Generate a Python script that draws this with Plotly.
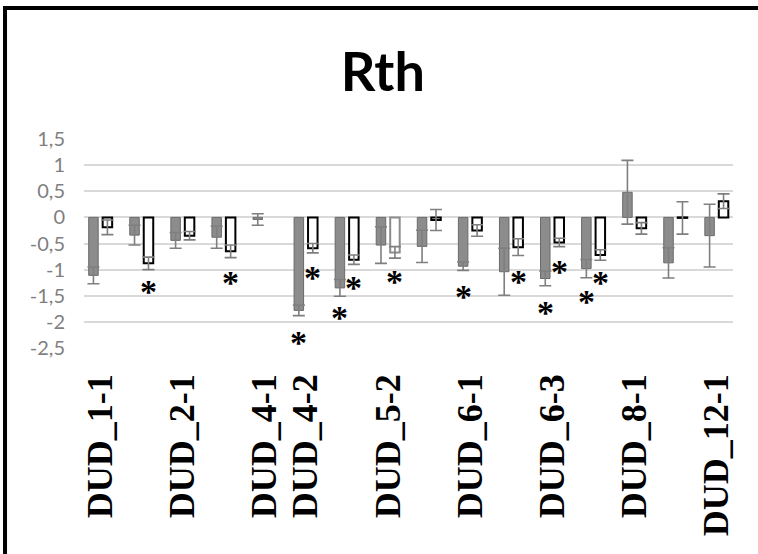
import plotly.graph_objects as go

categories = ["DUD_1-1", "DUD_1-2", "DUD_2-1", "DUD_2-2", "DUD_4-1", "DUD_4-2",
              "DUD_5-1", "DUD_5-2", "DUD_5-3", "DUD_6-1", "DUD_6-2", "DUD_6-3",
              "DUD_7-1", "DUD_8-1", "DUD_9-1", "DUD_12-1"]
shown_labels = ["DUD_1-1", "DUD_2-1", "DUD_4-1", "DUD_4-2", "DUD_5-2",
                "DUD_6-1", "DUD_6-3", "DUD_8-1", "DUD_12-1"]

gray_vals = [-1.11, -0.34, -0.44, -0.38, -0.04, -1.78, -1.35, -0.53,
             -0.555, -0.935, -1.04, -1.17, -0.98, 0.48, -0.87, -0.35]
gray_err = [0.16, 0.19, 0.15, 0.21, 0.11, 0.10, 0.16, 0.35,
            0.31, 0.08, 0.45, 0.14, 0.175, 0.61, 0.29, 0.60]
white_vals = [-0.19, -0.88, -0.35, -0.65, None, -0.59, -0.81, -0.67,
              -0.05, -0.25, -0.57, -0.48, -0.72, -0.21, -0.01, 0.31]
white_err = [0.14, 0.12, 0.08, 0.12, None, 0.09, 0.09, 0.11,
             0.20, 0.11, 0.16, 0.08, 0.10, 0.11, 0.31, 0.14]
white_outline = ["black"] * 7 + ["#8c8c8c"] + ["black"] * 8

# significance marks: (category, series, y position)
stars = [("DUD_1-2", "w", -1.28), ("DUD_2-2", "w", -1.11),
         ("DUD_4-2", "g", -2.26), ("DUD_4-2", "w", -1.02),
         ("DUD_5-1", "g", -1.79), ("DUD_5-1", "w", -1.20),
         ("DUD_5-2", "w", -1.09), ("DUD_6-1", "g", -1.38),
         ("DUD_6-2", "w", -1.09), ("DUD_6-3", "g", -1.69),
         ("DUD_6-3", "w", -0.90), ("DUD_7-1", "g", -1.47),
         ("DUD_7-1", "w", -1.11)]

y_ticks = [-2.5, -2, -1.5, -1, -0.5, 0, 0.5, 1, 1.5]
y_ticktext = ["-2,5", "-2", "-1,5", "-1", "-0,5", "0", "0,5", "1", "1,5"]

err_color = "#7f7f7f"
serif = "Liberation Serif"

fig = go.Figure()
fig.add_trace(go.Bar(
    x=categories, y=gray_vals, name="A",
    marker=dict(color="#8c8c8c", line=dict(color="#6a6a6a", width=1)),
    error_y=dict(type="data", array=gray_err, color=err_color, thickness=1.6, width=6),
))
fig.add_trace(go.Bar(
    x=categories, y=white_vals, name="B",
    marker=dict(color="white", line=dict(color=white_outline, width=2)),
    error_y=dict(type="data", array=white_err, color=err_color, thickness=1.6, width=6),
))

for cat, ser, yv in stars:
    fig.add_annotation(x=cat, y=yv, text="<b>*</b>", showarrow=False,
                       xshift=-7 if ser == "g" else 7, yshift=-7,
                       font=dict(family=serif, size=34, color="black"))

# chart border (top and left visible; right/bottom outside the picture)
fig.add_shape(type="rect", xref="paper", yref="paper",
              x0=-0.1217, x1=1.2, y0=-1.1, y1=1.627,
              line=dict(color="black", width=4), fillcolor="rgba(0,0,0,0)", layer="above")

fig.update_layout(
    width=758, height=554,
    margin=dict(l=84, r=25, t=139, b=206, autoexpand=False),
    paper_bgcolor="white", plot_bgcolor="white",
    barmode="group", bargap=0.32, bargroupgap=0.32,
    showlegend=False,
    title=dict(text="<b>Rth</b>", x=0.505, xanchor="center", xref="container",
               y=1 - 72 / 554, yanchor="middle", yref="container",
               font=dict(family="Lato", size=54, color="black")),
    xaxis=dict(type="category", range=[-0.4, 15.4], categoryorder="array",
               categoryarray=categories, tickmode="array", tickvals=shown_labels,
               ticktext=["<b>%s</b>" % t for t in shown_labels], tickangle=-90,
               showgrid=False, showline=False,
               zeroline=False, ticks="", ticklabelstandoff=18, automargin=False,
               tickfont=dict(family=serif, size=36, color="black")),
    yaxis=dict(range=[-2.5, 1.5], tickmode="array", tickvals=y_ticks, ticktext=y_ticktext,
               showgrid=True, gridcolor="#d9d9d9", gridwidth=1.5, zeroline=False,
               showline=False, ticks="", ticklabelstandoff=18, automargin=False,
               tickfont=dict(family="Lato", size=20, color="#7f7f7f")),
)

fig.write_html("out.html")
